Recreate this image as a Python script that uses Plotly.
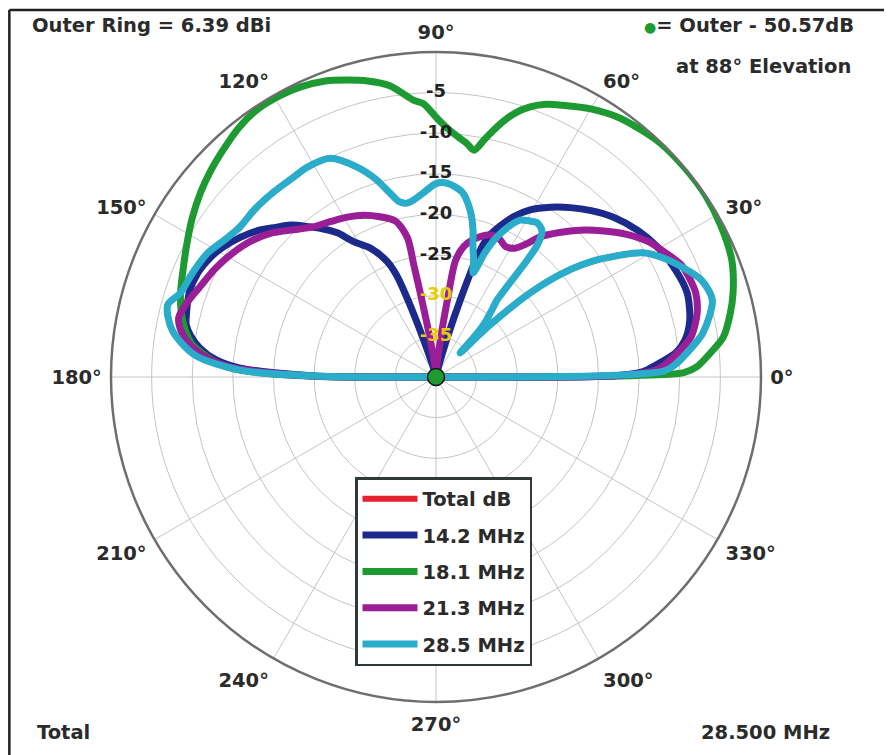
import plotly.graph_objects as go

# ---------------- data (elevation angle in degrees, gain in dB) ----------------
theta_142 = [0, 0.4, 1.5, 3, 5.8, 8.5, 12.6, 18.5, 24, 30.5, 36, 42, 47, 51.6, 56, 60.6, 64, 67,
             69.5, 71, 72.5, 74, 76, 80, 100, 106, 108.5, 110, 111.2, 113, 117, 121.3, 124.4,
             127.5, 133.8, 137, 140.6, 144.5, 148.6, 152, 156.5, 161, 165.6, 168.2, 170.5, 173,
             175.5, 177.4, 179.5, 180]
r_142 = [-40, -18, -14.5, -13, -10.3, -9.0, -8.0, -7.4, -7.7, -8.4, -9.3, -10.6, -12.0, -13.4,
         -14.8, -16.4, -18.0, -19.8, -21.5, -24, -30, -35, -38.5, -40, -40, -38.5, -35, -30,
         -26.5, -24.5, -22.2, -20.5, -18.5, -17.0, -14.1, -13.0, -11.6, -10.4, -9.3, -8.6, -8.0,
         -7.9, -8.3, -8.6, -9.4, -10.7, -12.8, -15.9, -25, -40]

theta_181 = [0, 0.4, 1, 2.2, 5, 7.9, 12, 15.8, 21.6, 28, 34, 40, 46, 50.5, 55.2, 60, 65, 68,
             70.8, 73.5, 76.3, 78.5, 80.5, 82.5, 84.5, 86.8, 89.5, 92.7, 94.7, 99, 103, 106.7,
             110.5, 115, 119, 123.8, 128.5, 133.2, 137.5, 142, 147, 151.7, 156.5, 161.8, 165.5,
             169.4, 172.5, 174.6, 176.5, 178, 179.6, 180]
r_181 = [-40, -16, -9.5, -7.9, -6.1, -4.3, -3.0, -2.0, -0.85, -0.3, 0, 0, -0.1, -0.5, -1.0,
         -1.9, -3.1, -3.8, -4.8, -6.2, -8.3, -10.2, -11.7, -11.0, -10.4, -9.6, -8.3, -6.3, -5.8,
         -3.7, -2.6, -1.85, -1.1, -0.6, -0.4, -0.4, -0.9, -1.7, -2.4, -3.2, -4.2, -5.2, -6.1,
         -6.9, -7.6, -8.6, -9.8, -11.4, -13.2, -15.9, -25, -40]

theta_213 = [0, 0.4, 1.5, 2.3, 5.9, 9, 13.8, 18, 20.9, 24.5, 28.5, 32.5, 36.6, 41, 45.6, 49.5,
             53.4, 56, 58.5, 62, 66, 70, 74.9, 78, 80.5, 81.5, 83, 86, 90, 95, 99, 100.5, 101.2,
             101.6, 104.5, 109.3, 114, 119, 124, 129.4, 134, 138.5, 143.5, 148.6, 154, 159.1,
             163, 167, 170, 172.6, 175, 177.2, 179.5, 180]
r_213 = [-40, -18, -13.5, -12.4, -10.0, -8.2, -6.9, -6.4, -6.5, -6.8, -7.9, -9.0, -10.6, -12.6,
         -14.7, -16.6, -18.5, -20.3, -21.4, -21.8, -21.2, -21.4, -22.5, -23.6, -25.5, -30, -35,
         -39, -40, -39, -35, -30, -26, -22.5, -20.2, -19.1, -18.2, -17.5, -16.9, -16.1, -14.8,
         -13.2, -11.8, -10.7, -9.7, -8.9, -8.1, -7.5, -8.2, -9.5, -11.5, -14.6, -24, -40]

theta_285 = [0, 0.4, 1.5, 3, 4.6, 9.4, 15.6, 20, 24, 28, 31, 36, 39.3, 41.8, 44, 45, 46.5, 48,
             50.5, 51.6, 52, 52.5, 54, 56.7, 59, 61.8, 64, 66.5, 68.5, 70.4, 72, 74.1, 76, 78.5,
             82, 86.8, 90, 94, 97, 99.5, 102, 104, 107, 110.6, 115.8, 121.6, 126, 131.5, 137,
             142.6, 147, 151.6, 157, 161.8, 165, 169.9, 174.8, 178, 179.5, 180]
r_285 = [-40, -20, -12, -10.5, -9.5, -6.7, -4.7, -5.2, -6.8, -8.6, -10.3, -15.5, -19.8, -24.5,
         -31, -35.8, -33, -31, -29, -27.9, -22, -19.5, -17.8, -17.3, -17.6, -18.1, -19.3, -21.2,
         -23.5, -26.4, -25, -23.4, -21.2, -19.0, -17.0, -16.1, -16.2, -17.3, -18.0, -18.3, -17.9,
         -16.7, -14.5, -12.4, -10.1, -9.7, -9.8, -9.7, -9.6, -9.6, -9.0, -8.0, -7.4, -6.9, -5.8,
         -7.0, -10.2, -15.9, -25, -40]

# "Total" pattern = the 28.500 MHz pattern shown
theta_total = theta_285
r_total = r_285

series_names = ["Total dB", "14.2 MHz", "18.1 MHz", "21.3 MHz", "28.5 MHz"]
series_colors = ["#e3202c", "#1c2a8c", "#1e9a32", "#9a1e96", "#2aaccb"]

radial_ticks = [-35, -30, -25, -20, -15, -10, -5]
radial_labels = ["-35", "-30", "-25", "-20", "-15", "-10", "-5"]
radial_label_colors = ["#e8cc00", "#e8cc00", "#222222", "#222222", "#222222", "#222222", "#222222"]

angle_ticks = [0, 30, 60, 90, 120, 150, 180, 210, 240, 270, 300, 330]
angle_labels = [f"{a}°" for a in angle_ticks]

outer_marker_theta = [0]
outer_marker_r = [-40]

# ---------------- figure ----------------
# The page body has an 8 px margin, so the figure is 8 px smaller and every
# reference pixel position is shifted by -8.
OFF = 8
W, H = 892 - OFF, 755 - OFF
cx, cy, R = 436 - OFF, 377 - OFF, 325
FONT = "DejaVu Sans, Liberation Sans, Arial, sans-serif"
TXT = "#2b2b2b"


def px(x):
    return (x - OFF) / W


def py(y):
    return 1 - (y - OFF) / H


fig = go.Figure()
thetas = [theta_total, theta_142, theta_181, theta_213, theta_285]
rs = [r_total, r_142, r_181, r_213, r_285]
widths = [6, 7, 7, 7, 7]
for name, col, th, rr, w in zip(series_names, series_colors, thetas, rs, widths):
    fig.add_trace(go.Scatterpolar(
        theta=th, r=rr, mode="lines", name=name, legendgroup=name,
        line=dict(color=col, width=w, shape="spline", smoothing=0.8),
        hoverinfo="skip"))

fig.add_trace(go.Scatterpolar(
    theta=[90] * len(radial_ticks), r=radial_ticks, mode="text", text=radial_labels,
    textfont=dict(family=FONT, size=18, color=radial_label_colors, weight="bold"),
    showlegend=False, hoverinfo="skip"))

fig.add_trace(go.Scatterpolar(
    theta=outer_marker_theta, r=outer_marker_r, mode="markers",
    marker=dict(size=17, color="#1e9a32", line=dict(color="#111111", width=1.5)),
    showlegend=False, hoverinfo="skip"))

fig.update_layout(
    width=W, height=H, margin=dict(l=0, r=0, t=0, b=0),
    paper_bgcolor="white",
    font=dict(family=FONT, color=TXT),
    polar=dict(
        domain=dict(x=[(cx - R) / W, (cx + R) / W], y=[(H - cy - R) / H, (H - cy + R) / H]),
        bgcolor="white",
        radialaxis=dict(range=[-40, 0], tickvals=radial_ticks, showticklabels=False,
                        ticks="", showline=False, gridcolor="#c4c4c4", gridwidth=1,
                        angle=90),
        angularaxis=dict(rotation=0, direction="counterclockwise", tickvals=angle_ticks,
                         ticktext=angle_labels, showline=True, linecolor="#6e6e6e",
                         linewidth=2.5, gridcolor="#c4c4c4", gridwidth=1,
                         ticks="outside", ticklen=4, tickcolor="rgba(0,0,0,0)",
                         tickfont=dict(family=FONT, size=19.5, color=TXT, weight="bold")),
    ),
    legend=dict(x=px(355), y=py(477), xanchor="left", yanchor="top",
                bgcolor="white", bordercolor="#2f3a36", borderwidth=2.5,
                font=dict(family=FONT, size=19.5, color=TXT, weight="bold"),
                tracegroupgap=8, itemwidth=55),
    showlegend=True,
)

ann_font = dict(family=FONT, size=19.5, color=TXT, weight="bold")
fig.add_annotation(x=px(30), y=py(26), xref="paper", yref="paper", xanchor="left",
                   yanchor="middle", text="Outer Ring = 6.39 dBi", showarrow=False, font=ann_font)
fig.add_annotation(x=px(856), y=py(26), xref="paper", yref="paper", xanchor="right",
                   yanchor="middle",
                   text='<span style="color:#1e9a32;font-size:14px">●</span>= Outer - 50.57dB',
                   showarrow=False, font=ann_font)
fig.add_annotation(x=px(853), y=py(67), xref="paper", yref="paper", xanchor="right",
                   yanchor="middle", text="at 88° Elevation", showarrow=False, font=ann_font)
fig.add_annotation(x=px(35), y=py(732), xref="paper", yref="paper", xanchor="left",
                   yanchor="middle", text="Total", showarrow=False, font=ann_font)
fig.add_annotation(x=px(832), y=py(732), xref="paper", yref="paper", xanchor="right",
                   yanchor="middle", text="28.500 MHz", showarrow=False, font=ann_font)

# outer frame (top and left edges visible in the picture)
fig.add_shape(type="line", xref="paper", yref="paper", x0=0.0015, x1=1.0, y0=py(10),
              y1=py(10), line=dict(color="#222222", width=2.5))
fig.add_shape(type="line", xref="paper", yref="paper", x0=0.0015, x1=0.0015, y0=0,
              y1=py(10), line=dict(color="#222222", width=2.5))

fig.write_html("out.html")
